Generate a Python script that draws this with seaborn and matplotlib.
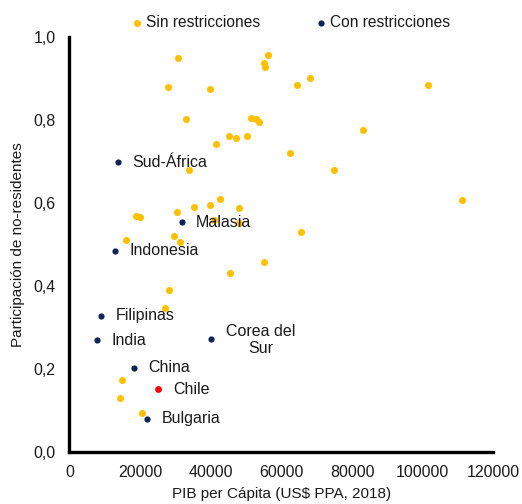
import numpy as np
import pandas as pd
import matplotlib
matplotlib.use("Agg")
import matplotlib.pyplot as plt
import seaborn as sns
from matplotlib.ticker import FuncFormatter

# Unrestricted countries (yellow)
sin_x = [30600, 56350, 55100, 55500, 27780, 39830, 64450, 68030, 101400, 32950,
         51540, 52760, 53800, 83220, 45210, 47290, 50300, 41530, 62570, 74910,
         33890, 111100, 42770, 39740, 35310, 48040, 30500, 18810, 19860, 40880,
         47950, 65580, 15980, 29470, 31350, 55220, 45400, 28150, 27100, 14940,
         14370, 20510]
sin_y = [0.948, 0.955, 0.937, 0.928, 0.878, 0.875, 0.885, 0.900, 0.884, 0.801,
         0.805, 0.803, 0.794, 0.775, 0.761, 0.757, 0.760, 0.742, 0.720, 0.680,
         0.680, 0.606, 0.610, 0.596, 0.591, 0.587, 0.579, 0.569, 0.566, 0.559,
         0.551, 0.529, 0.510, 0.520, 0.507, 0.457, 0.431, 0.390, 0.346, 0.173,
         0.130, 0.093]

# Restricted countries (navy)
con_names = ["Sud-África", "Malasia", "Indonesia", "Filipinas", "India",
             "Corea del\nSur", "China", "Bulgaria"]
con_x = [13720, 31740, 12960, 9000, 7780, 40110, 18250, 21920]
con_y = [0.698, 0.553, 0.485, 0.328, 0.269, 0.272, 0.203, 0.080]

# Chile (highlight)
chile_name = "Chile"
chile_x = [25130]
chile_y = [0.151]

x_ticks = [0, 20000, 40000, 60000, 80000, 100000, 120000]
y_ticks = [0.0, 0.2, 0.4, 0.6, 0.8, 1.0]

YELLOW = "#FFC000"
NAVY = "#0B2559"
RED = "#FF0000"
TXT = "#1a1a1a"

sns.set_theme(style="white")
plt.rcParams["font.family"] = ["Liberation Sans", "DejaVu Sans"]

fig = plt.figure(figsize=(5.22, 5.04), dpi=100)
ax = fig.add_axes([0.133, 0.103, 0.812, 0.824])

df_sin = pd.DataFrame({"x": sin_x, "y": sin_y})
df_con = pd.DataFrame({"x": con_x, "y": con_y})
df_chile = pd.DataFrame({"x": chile_x, "y": chile_y})

sns.scatterplot(data=df_sin, x="x", y="y", color=YELLOW, s=26, linewidth=0,
                ax=ax, label="Sin restricciones", zorder=3)
sns.scatterplot(data=df_con, x="x", y="y", color=NAVY, s=20, linewidth=0,
                ax=ax, label="Con restricciones", zorder=3)
sns.scatterplot(data=df_chile, x="x", y="y", color=RED, s=24, linewidth=0,
                ax=ax, legend=False, zorder=3)

lab_fs = 11.5
for name, xv, yv in zip(con_names, con_x, con_y):
    if "\n" in name:
        ax.annotate(name, (xv, yv), xytext=(36, -0.5), textcoords="offset points",
                    ha="center", va="center", fontsize=lab_fs, color=TXT,
                    linespacing=1.2)
    else:
        ax.annotate(name, (xv, yv), xytext=(10.5, 0), textcoords="offset points",
                    ha="left", va="center", fontsize=lab_fs, color=TXT)
ax.annotate(chile_name, (chile_x[0], chile_y[0]), xytext=(10.5, 0),
            textcoords="offset points", ha="left", va="center",
            fontsize=lab_fs, color=TXT)

ax.set_xlim(0, 120000)
ax.set_ylim(0, 1.0)
ax.set_xticks(x_ticks)
ax.set_yticks(y_ticks)
ax.xaxis.set_major_formatter(FuncFormatter(lambda v, p: f"{int(v)}"))
ax.yaxis.set_major_formatter(FuncFormatter(lambda v, p: f"{v:.1f}".replace(".", ",")))
ax.tick_params(axis="both", direction="out", length=4, width=2.2, color="black",
               labelsize=11.5, labelcolor=TXT)
ax.tick_params(axis="y", pad=6)
ax.tick_params(axis="x", pad=5)

for side in ["top", "right"]:
    ax.spines[side].set_visible(False)
for side in ["left", "bottom"]:
    ax.spines[side].set_linewidth(2.4)
    ax.spines[side].set_color("black")

ax.set_xlabel("PIB per Cápita (US$ PPA, 2018)", fontsize=11, color=TXT, labelpad=5)
ax.set_ylabel("Participación de no-residentes", fontsize=11, color=TXT, labelpad=6)

handles, labels = ax.get_legend_handles_labels()
ax.legend_.remove()
fig.legend(handles, labels, loc="center", bbox_to_anchor=(0.556, 0.955), ncol=2,
           frameon=False, fontsize=11.2, handlelength=0.8, handletextpad=0.2,
           columnspacing=3.5, markerscale=1.0, labelcolor=TXT)

fig.savefig("out.png", dpi=100)
